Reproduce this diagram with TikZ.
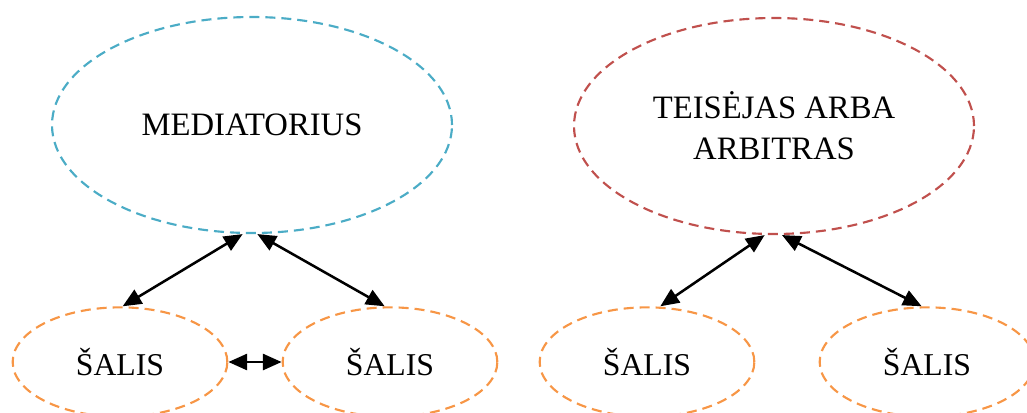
\documentclass[tikz,border=0pt]{standalone}
\usepackage{fontspec}
\setmainfont{Liberation Serif}
\usetikzlibrary{shapes.geometric,arrows.meta}
\definecolor{medblue}{RGB}{75,172,198}
\definecolor{judred}{RGB}{192,80,77}
\definecolor{partyorange}{RGB}{247,150,70}
\begin{document}
\begin{tikzpicture}[x=0.75pt,y=-0.75pt]

\def\bigw{300pt}
\def\bigh{162pt}
\def\smallw{161pt}
\def\smallh{82pt}

\tikzset{bigoval/.style = {draw, ellipse, line width=1.6pt, dash pattern=on 7.5pt off 4.5pt, minimum width=\bigw, minimum height=\bigh, inner sep=0pt, align=center, font=\fontsize{24.5}{31}\selectfont}}
\tikzset{smalloval/.style = {draw=partyorange, ellipse, line width=1.6pt, dash pattern=on 7.5pt off 4.5pt, minimum width=\smallw, minimum height=\smallh, inner sep=0pt, font=\fontsize{23.8}{31}\selectfont}}
\tikzset{link/.style = {{Triangle[length=14pt,width=12pt]}-{Triangle[length=14pt,width=12pt]}, line width=1.9pt}}

\useasboundingbox (0,0) rectangle (1027,412);

\node[bigoval,draw=medblue] (Med) at (252,125) {MEDIATORIUS};
\node[bigoval,draw=judred] (Jud) at (774,126) {TEISĖJAS ARBA\\ARBITRAS};

\node[smalloval] (S1) at (120,362) {ŠALIS};
\node[smalloval] (S2) at (390,362) {ŠALIS};
\node[smalloval] (S3) at (647,362) {ŠALIS};
\node[smalloval] (S4) at (927,362) {ŠALIS};

\draw[link] ([xshift=-7pt]Med.south) -- ([xshift=2pt]S1.north);
\draw[link] ([xshift=4pt]Med.south) -- ([xshift=-4pt]S2.north);
\draw[link] (S1.east) -- (S2.west);

\draw[link] ([xshift=-7pt]Jud.south) -- ([xshift=10pt]S3.north);
\draw[link] ([xshift=6pt]Jud.south) -- ([xshift=-4pt]S4.north);

\end{tikzpicture}
\end{document}
